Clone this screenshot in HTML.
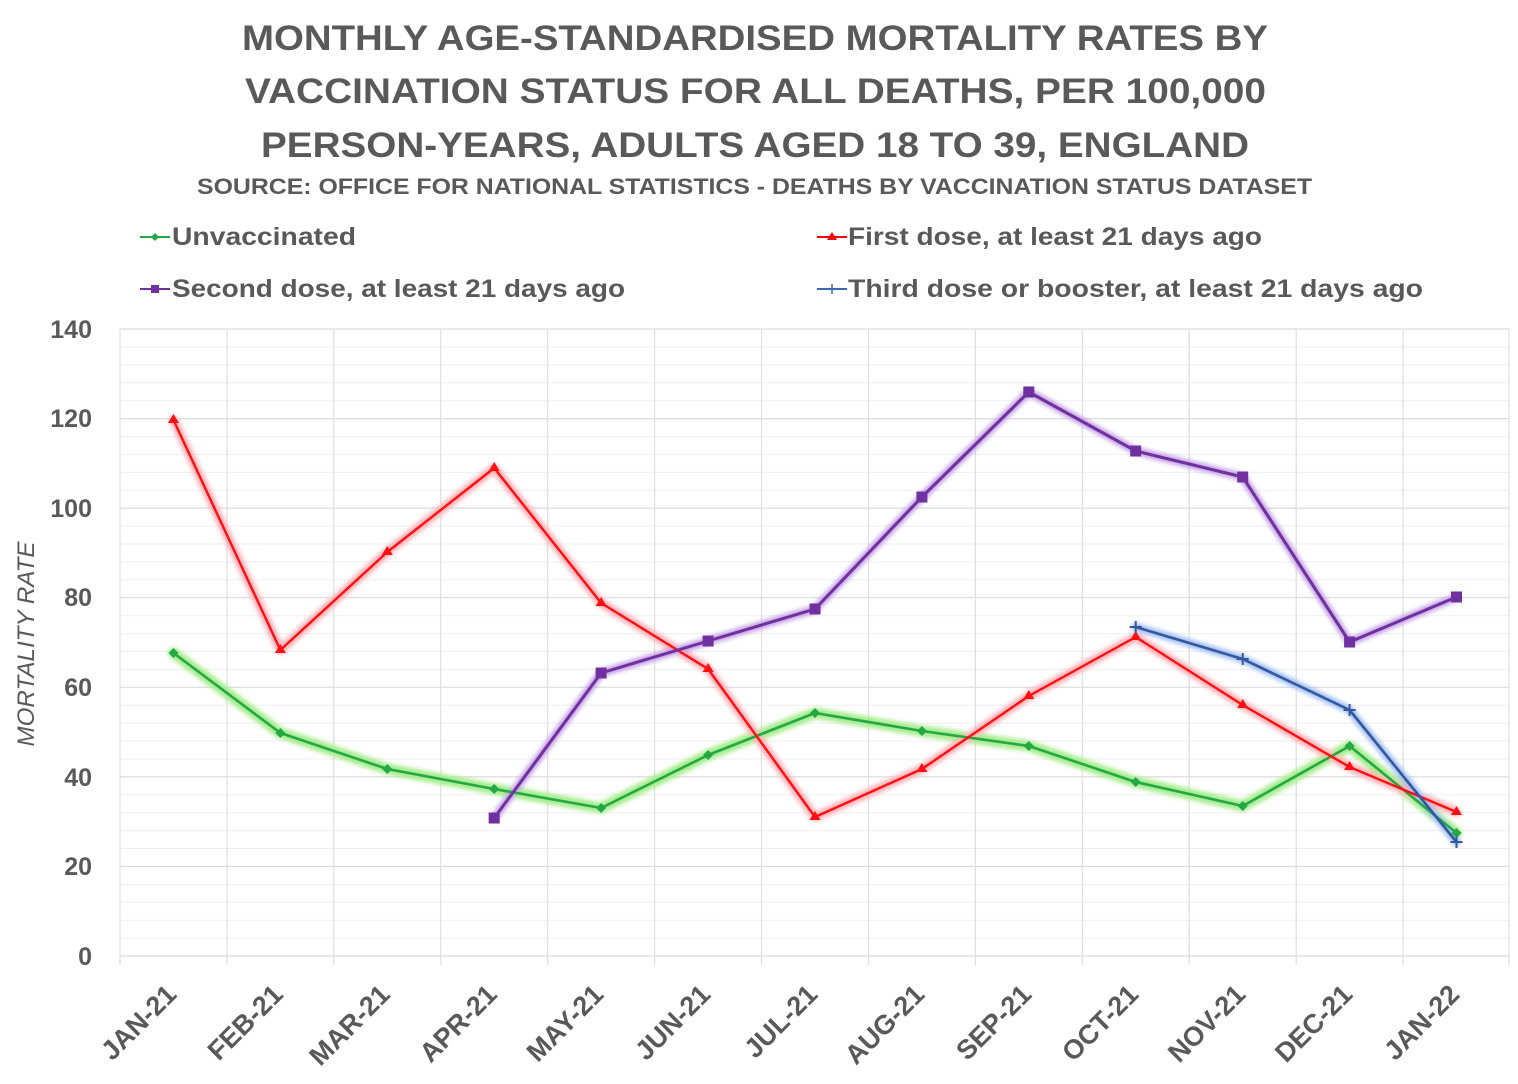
<!DOCTYPE html>
<html>
<head>
<meta charset="utf-8">
<style>
  html, body { margin: 0; padding: 0; background: #ffffff; }
  svg { display: block; }
  text { font-family: "Liberation Sans", "DejaVu Sans", sans-serif; }
</style>
</head>
<body>
<svg width="1518" height="1084" viewBox="0 0 1518 1084" xmlns="http://www.w3.org/2000/svg">
  <defs>
    <filter id="glow" x="-10%" y="-10%" width="120%" height="120%">
      <feGaussianBlur stdDeviation="2.2"/>
    </filter>
  </defs>
  <rect width="1518" height="1084" fill="#ffffff"/>

  <!-- Title -->
  <g fill="#595959" font-weight="bold" text-anchor="middle">
    <text x="755" y="50" font-size="35" textLength="1026" lengthAdjust="spacingAndGlyphs">MONTHLY AGE-STANDARDISED MORTALITY RATES BY</text>
    <text x="755.5" y="103" font-size="35" textLength="1021" lengthAdjust="spacingAndGlyphs">VACCINATION STATUS FOR ALL DEATHS, PER 100,000</text>
    <text x="755" y="157" font-size="35" textLength="988" lengthAdjust="spacingAndGlyphs">PERSON-YEARS, ADULTS AGED 18 TO 39, ENGLAND</text>
    <text x="754.5" y="194" font-size="22" textLength="1115" lengthAdjust="spacingAndGlyphs">SOURCE: OFFICE FOR NATIONAL STATISTICS - DEATHS BY VACCINATION STATUS DATASET</text>
  </g>

  <!-- Legend -->
  <g font-size="25" font-weight="bold" fill="#595959">
    <line x1="140" y1="237" x2="170" y2="237" stroke="#22a844" stroke-width="2"/>
    <polygon points="155,233 159,237 155,241 151,237" fill="#22a844"/>
    <text x="172" y="245" textLength="184" lengthAdjust="spacingAndGlyphs">Unvaccinated</text>

    <line x1="140" y1="289" x2="170" y2="289" stroke="#7030a0" stroke-width="2"/>
    <rect x="151" y="285" width="8" height="8" fill="#7030a0"/>
    <text x="172" y="297" textLength="453" lengthAdjust="spacingAndGlyphs">Second dose, at least 21 days ago</text>

    <line x1="817" y1="237" x2="847" y2="237" stroke="#ff0000" stroke-width="2"/>
    <polygon points="832,232 837,240 827,240" fill="#ff0000"/>
    <text x="848" y="245" textLength="414" lengthAdjust="spacingAndGlyphs">First dose, at least 21 days ago</text>

    <line x1="817" y1="289" x2="847" y2="289" stroke="#3c64b4" stroke-width="2"/>
    <line x1="832" y1="284" x2="832" y2="294" stroke="#3c64b4" stroke-width="1.5"/>
    <text x="848" y="297" textLength="575" lengthAdjust="spacingAndGlyphs">Third dose or booster, at least 21 days ago</text>
  </g>

  <!-- Minor gridlines -->
  <g stroke="#efefef" stroke-width="1">
    <line x1="120" x2="1509" y1="938.1" y2="938.1"/><line x1="120" x2="1509" y1="920.2" y2="920.2"/><line x1="120" x2="1509" y1="902.3" y2="902.3"/><line x1="120" x2="1509" y1="884.4" y2="884.4"/>
    <line x1="120" x2="1509" y1="848.5" y2="848.5"/><line x1="120" x2="1509" y1="830.6" y2="830.6"/><line x1="120" x2="1509" y1="812.7" y2="812.7"/><line x1="120" x2="1509" y1="794.8" y2="794.8"/>
    <line x1="120" x2="1509" y1="759.0" y2="759.0"/><line x1="120" x2="1509" y1="741.0" y2="741.0"/><line x1="120" x2="1509" y1="723.1" y2="723.1"/><line x1="120" x2="1509" y1="705.2" y2="705.2"/>
    <line x1="120" x2="1509" y1="669.4" y2="669.4"/><line x1="120" x2="1509" y1="651.5" y2="651.5"/><line x1="120" x2="1509" y1="633.6" y2="633.6"/><line x1="120" x2="1509" y1="615.7" y2="615.7"/>
    <line x1="120" x2="1509" y1="579.8" y2="579.8"/><line x1="120" x2="1509" y1="561.9" y2="561.9"/><line x1="120" x2="1509" y1="544.0" y2="544.0"/><line x1="120" x2="1509" y1="526.1" y2="526.1"/>
    <line x1="120" x2="1509" y1="490.3" y2="490.3"/><line x1="120" x2="1509" y1="472.4" y2="472.4"/><line x1="120" x2="1509" y1="454.5" y2="454.5"/><line x1="120" x2="1509" y1="436.5" y2="436.5"/>
    <line x1="120" x2="1509" y1="400.7" y2="400.7"/><line x1="120" x2="1509" y1="382.8" y2="382.8"/><line x1="120" x2="1509" y1="364.9" y2="364.9"/><line x1="120" x2="1509" y1="347.0" y2="347.0"/>
  </g>
  <!-- Major gridlines -->
  <g stroke="#dcdcdc" stroke-width="1.2">
    <line x1="120" x2="1509" y1="329" y2="329"/>
    <line x1="120" x2="1509" y1="418.6" y2="418.6"/>
    <line x1="120" x2="1509" y1="508.1" y2="508.1"/>
    <line x1="120" x2="1509" y1="597.7" y2="597.7"/>
    <line x1="120" x2="1509" y1="687.3" y2="687.3"/>
    <line x1="120" x2="1509" y1="776.9" y2="776.9"/>
    <line x1="120" x2="1509" y1="866.4" y2="866.4"/>
    <line x1="120" x2="1509" y1="956" y2="956"/>
  </g>
  <!-- Vertical gridlines -->
  <g stroke="#dedede" stroke-width="1.2">
    <line x1="120" x2="120" y1="329" y2="965"/>
    <line x1="226.9" x2="226.9" y1="329" y2="965"/>
    <line x1="333.8" x2="333.8" y1="329" y2="965"/>
    <line x1="440.8" x2="440.8" y1="329" y2="965"/>
    <line x1="547.7" x2="547.7" y1="329" y2="965"/>
    <line x1="654.6" x2="654.6" y1="329" y2="965"/>
    <line x1="761.5" x2="761.5" y1="329" y2="965"/>
    <line x1="868.5" x2="868.5" y1="329" y2="965"/>
    <line x1="975.4" x2="975.4" y1="329" y2="965"/>
    <line x1="1082.3" x2="1082.3" y1="329" y2="965"/>
    <line x1="1189.2" x2="1189.2" y1="329" y2="965"/>
    <line x1="1296.2" x2="1296.2" y1="329" y2="965"/>
    <line x1="1403.1" x2="1403.1" y1="329" y2="965"/>
    <line x1="1509" x2="1509" y1="329" y2="965"/>
  </g>

  <!-- Y tick labels -->
  <g font-size="25" font-weight="bold" fill="#595959" text-anchor="end">
    <text x="92" y="338">140</text>
    <text x="92" y="427">120</text>
    <text x="92" y="517">100</text>
    <text x="92" y="606">80</text>
    <text x="92" y="696">60</text>
    <text x="92" y="786">40</text>
    <text x="92" y="875">20</text>
    <text x="92" y="965">0</text>
  </g>

  <!-- Y axis title -->
  <text transform="translate(34,644) rotate(-90)" font-size="24" font-style="italic" fill="#595959" text-anchor="middle" textLength="205" lengthAdjust="spacingAndGlyphs">MORTALITY RATE</text>

  <!-- X labels -->
  <g font-size="27" font-weight="bold" fill="#595959" text-anchor="end">
    <text transform="translate(178,996) rotate(-45)">JAN-21</text>
    <text transform="translate(284.5,996) rotate(-45)">FEB-21</text>
    <text transform="translate(391.5,996) rotate(-45)">MAR-21</text>
    <text transform="translate(498.5,996) rotate(-45)">APR-21</text>
    <text transform="translate(605,996) rotate(-45)">MAY-21</text>
    <text transform="translate(712,996) rotate(-45)">JUN-21</text>
    <text transform="translate(819,996) rotate(-45)">JUL-21</text>
    <text transform="translate(926,996) rotate(-45)">AUG-21</text>
    <text transform="translate(1033,996) rotate(-45)">SEP-21</text>
    <text transform="translate(1140,996) rotate(-45)">OCT-21</text>
    <text transform="translate(1247,996) rotate(-45)">NOV-21</text>
    <text transform="translate(1354,996) rotate(-45)">DEC-21</text>
    <text transform="translate(1461,996) rotate(-45)">JAN-22</text>
  </g>

  <!-- Glows -->
  <g fill="none" stroke-linejoin="round" stroke-linecap="round" filter="url(#glow)">
    <polyline stroke="#a6ec8c" stroke-width="11" points="173.5,653 280.4,733 387.3,769 494.2,789 601.1,808 708.1,755 815,713 921.9,731 1028.8,746 1135.7,782 1242.7,806 1349.6,746 1456.5,833"/>
    <polyline stroke="#ffb0b8" stroke-width="9" points="173.5,420 280.4,650 387.3,552 494.2,468 601.1,603 708.1,669 815,817 921.9,769 1028.8,696 1135.7,637 1242.7,705 1349.6,767 1456.5,812"/>
    <polyline stroke="#c4a0e4" stroke-width="8" points="494.2,818 601.1,673 708.1,641 815,609 921.9,497 1028.8,392 1135.7,451 1242.7,477 1349.6,642 1456.5,597"/>
    <polyline stroke="#9fbdf0" stroke-width="8" points="1135.7,627 1242.7,659 1349.6,710 1456.5,842"/>
  </g>

  <!-- Lines -->
  <g fill="none" stroke-linejoin="round" stroke-linecap="round">
    <polyline stroke="#22a844" stroke-width="2.6" points="173.5,653 280.4,733 387.3,769 494.2,789 601.1,808 708.1,755 815,713 921.9,731 1028.8,746 1135.7,782 1242.7,806 1349.6,746 1456.5,833"/>
    <polyline stroke="#ff1010" stroke-width="2.4" points="173.5,420 280.4,650 387.3,552 494.2,468 601.1,603 708.1,669 815,817 921.9,769 1028.8,696 1135.7,637 1242.7,705 1349.6,767 1456.5,812"/>
    <polyline stroke="#7030a0" stroke-width="3" points="494.2,818 601.1,673 708.1,641 815,609 921.9,497 1028.8,392 1135.7,451 1242.7,477 1349.6,642 1456.5,597"/>
    <polyline stroke="#34589f" stroke-width="2.6" points="1135.7,627 1242.7,659 1349.6,710 1456.5,842"/>
  </g>

  <!-- Markers: green diamonds -->
  <g fill="#22a844">
    <polygon points="173.5,648 178.5,653 173.5,658 168.5,653"/>
    <polygon points="280.4,728 285.4,733 280.4,738 275.4,733"/>
    <polygon points="387.3,764 392.3,769 387.3,774 382.3,769"/>
    <polygon points="494.2,784 499.2,789 494.2,794 489.2,789"/>
    <polygon points="601.1,803 606.1,808 601.1,813 596.1,808"/>
    <polygon points="708.1,750 713.1,755 708.1,760 703.1,755"/>
    <polygon points="815,708 820,713 815,718 810,713"/>
    <polygon points="921.9,726 926.9,731 921.9,736 916.9,731"/>
    <polygon points="1028.8,741 1033.8,746 1028.8,751 1023.8,746"/>
    <polygon points="1135.7,777 1140.7,782 1135.7,787 1130.7,782"/>
    <polygon points="1242.7,801 1247.7,806 1242.7,811 1237.7,806"/>
    <polygon points="1349.6,741 1354.6,746 1349.6,751 1344.6,746"/>
    <polygon points="1456.5,828 1461.5,833 1456.5,838 1451.5,833"/>
  </g>
  <!-- Red triangles -->
  <g fill="#ff1010">
    <polygon points="173.5,414 179,423 168,423"/>
    <polygon points="280.4,644 285.9,653 274.9,653"/>
    <polygon points="387.3,546 392.8,555 381.8,555"/>
    <polygon points="494.2,462 499.7,471 488.7,471"/>
    <polygon points="601.1,597 606.6,606 595.6,606"/>
    <polygon points="708.1,663 713.6,672 702.6,672"/>
    <polygon points="815,811 820.5,820 809.5,820"/>
    <polygon points="921.9,763 927.4,772 916.4,772"/>
    <polygon points="1028.8,690 1034.3,699 1023.3,699"/>
    <polygon points="1135.7,631 1141.2,640 1130.2,640"/>
    <polygon points="1242.7,699 1248.2,708 1237.2,708"/>
    <polygon points="1349.6,761 1355.1,770 1344.1,770"/>
    <polygon points="1456.5,806 1462,815 1451,815"/>
  </g>
  <!-- Purple squares -->
  <g fill="#7030a0">
    <rect x="488.7" y="812.5" width="11" height="11"/>
    <rect x="595.6" y="667.5" width="11" height="11"/>
    <rect x="702.6" y="635.5" width="11" height="11"/>
    <rect x="809.5" y="603.5" width="11" height="11"/>
    <rect x="916.4" y="491.5" width="11" height="11"/>
    <rect x="1023.3" y="386.5" width="11" height="11"/>
    <rect x="1130.2" y="445.5" width="11" height="11"/>
    <rect x="1237.2" y="471.5" width="11" height="11"/>
    <rect x="1344.1" y="636.5" width="11" height="11"/>
    <rect x="1451" y="591.5" width="11" height="11"/>
  </g>
  <!-- Blue plus -->
  <g stroke="#34589f" stroke-width="2">
    <line x1="1129.7" y1="627" x2="1141.7" y2="627"/><line x1="1135.7" y1="621" x2="1135.7" y2="633"/>
    <line x1="1236.7" y1="659" x2="1248.7" y2="659"/><line x1="1242.7" y1="653" x2="1242.7" y2="665"/>
    <line x1="1343.6" y1="710" x2="1355.6" y2="710"/><line x1="1349.6" y1="704" x2="1349.6" y2="716"/>
    <line x1="1450.5" y1="842" x2="1462.5" y2="842"/><line x1="1456.5" y1="836" x2="1456.5" y2="848"/>
  </g>
</svg>
</body>
</html>
